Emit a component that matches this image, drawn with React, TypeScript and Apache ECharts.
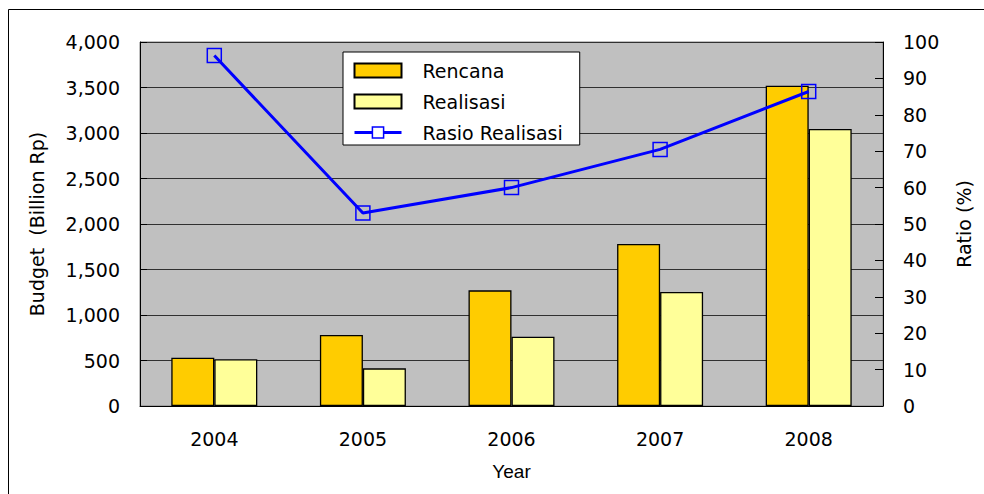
import React, { useEffect, useRef } from "react";
import * as echarts from "echarts";

// Budget plan vs. realisation per year, with the realisation ratio on a second axis
const years = ["2004", "2005", "2006", "2007", "2008"];
const rencana = [531, 780, 1271, 1780, 3520];
const realisasi = [513, 414, 762, 1253, 3044];
const rasio = [96.3, 53.0, 60.0, 70.5, 86.4];

const budgetTicks = { min: 0, max: 4000, interval: 500 };
const ratioTicks = { min: 0, max: 100, interval: 10 };

const FONT = "DejaVu Sans";

export default function App() {
  const ref = useRef<HTMLDivElement>(null);

  useEffect(() => {
    document.body.style.margin = "0";
    const chart = echarts.init(ref.current!, null, { renderer: "svg" });
    const axisText = { color: "#000", fontFamily: FONT, fontSize: 19 };
    chart.setOption({
      animation: false,
      backgroundColor: "#fff",
      graphic: [
        {
          type: "rect",
          shape: { x: 8.5, y: 9.5, width: 1000, height: 500 },
          style: { fill: "none", stroke: "#000", lineWidth: 1 },
          silent: true,
          z: -10,
        },
      ],
      grid: {
        left: 140,
        right: 101,
        top: 42,
        bottom: 88,
        show: true,
        backgroundColor: "#C0C0C0",
        borderColor: "#808080",
        borderWidth: 1,
      },
      legend: {
        orient: "vertical",
        left: 343,
        top: 52,
        padding: [9, 17, 3, 10],
        itemWidth: 47,
        itemHeight: 14,
        itemGap: 12,
        backgroundColor: "#fff",
        borderColor: "#000",
        borderWidth: 1,
        textStyle: { ...axisText, padding: [0, 0, 0, 16] },
        data: [
          { name: "Rencana", icon: "rect" },
          { name: "Realisasi", icon: "rect" },
          {
            name: "Rasio Realisasi",
            lineStyle: { color: "#0000FF", width: 3 },
            itemStyle: { color: "#fff", borderColor: "#0000FF", borderWidth: 1.5 },
          },
        ],
      },
      xAxis: {
        type: "category",
        data: years,
        name: "Year",
        nameLocation: "middle",
        nameGap: 56,
        nameTextStyle: { ...axisText, fontFamily: "Liberation Sans" },
        axisLine: { lineStyle: { color: "#000", width: 1 } },
        axisTick: { inside: true, length: 7, interval: 0, lineStyle: { color: "#000" } },
        axisLabel: { ...axisText, margin: 23 },
      },
      yAxis: [
        {
          type: "value",
          ...budgetTicks,
          name: "Budget  (Billion Rp)",
          nameLocation: "middle",
          nameGap: 94,
          nameRotate: 90,
          nameTextStyle: axisText,
          axisLine: { show: true, lineStyle: { color: "#000", width: 1 } },
          axisTick: { show: true, inside: true, length: 7, lineStyle: { color: "#000" } },
          axisLabel: {
            ...axisText,
            margin: 20,
            formatter: (v: number) => v.toLocaleString("en-US"),
          },
          splitLine: { show: true, lineStyle: { color: "#303030", width: 1 } },
        },
        {
          type: "value",
          ...ratioTicks,
          position: "right",
          name: "Ratio (%)",
          nameLocation: "middle",
          nameGap: 71,
          nameRotate: 90,
          nameTextStyle: axisText,
          axisLine: { show: true, lineStyle: { color: "#000", width: 1 } },
          axisTick: { show: true, inside: true, length: 8, lineStyle: { color: "#000" } },
          axisLabel: { ...axisText, margin: 20 },
          splitLine: { show: false },
        },
      ],
      series: [
        {
          name: "Rencana",
          type: "bar",
          data: rencana,
          barWidth: 43,
          barGap: "0%",
          itemStyle: { color: "#FFCC00", borderColor: "#000", borderWidth: 1.3 },
        },
        {
          name: "Realisasi",
          type: "bar",
          data: realisasi,
          barWidth: 43,
          barGap: "0%",
          itemStyle: { color: "#FFFF99", borderColor: "#000", borderWidth: 1.3 },
        },
        {
          name: "Rasio Realisasi",
          type: "line",
          yAxisIndex: 1,
          data: rasio,
          symbol: "rect",
          symbolSize: 14,
          z: 5,
          lineStyle: { color: "#0000FF", width: 3 },
          itemStyle: { color: "rgba(0,0,0,0)", borderColor: "#0000FF", borderWidth: 1.5 },
        },
      ],
    });
    return () => chart.dispose();
  }, []);

  return <div ref={ref} style={{ width: 984, height: 494 }} />;
}
